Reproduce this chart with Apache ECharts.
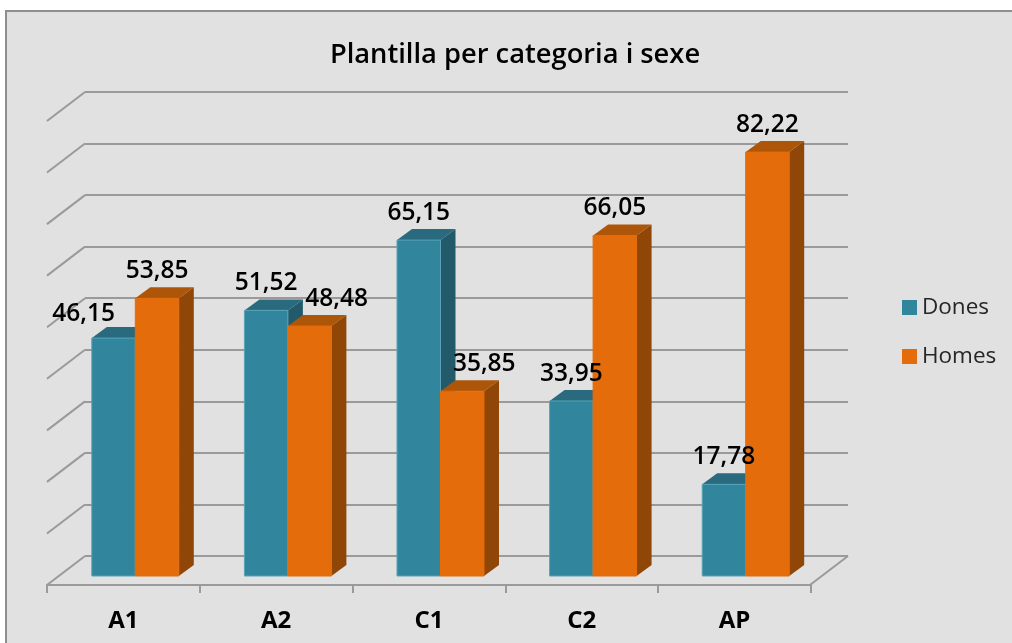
<!DOCTYPE html>
<html>
<head>
<meta charset="utf-8">
<style>html,body{margin:0;padding:0;background:#fff;overflow:hidden}#chart{width:1012px;height:643px}</style>
<script src="https://cdn.jsdelivr.net/npm/echarts@6/dist/echarts.min.js"></script>
</head>
<body>
<div id="chart"></div>
<script>
const categories = ['A1', 'A2', 'C1', 'C2', 'AP'];
const dones = [46.15, 51.52, 65.15, 33.95, 17.78];
const homes = [53.85, 48.48, 35.85, 66.05, 82.22];
const gridValues = [0, 10, 20, 30, 40, 50, 60, 70, 80, 90];

// Oblique projection of the chart box: front plane relative to the back wall
const FRONT = { x: -38, y: 29 };
const BAR_FRONT = { x: -26, y: 20 };
const BAR_DEPTH = { x: 15, y: -11 };
const BAR_BAND_RATIO = 0.285;

const TEAL = { front: '#31859c', top: '#2a6a7e', side: '#225a6a', edge: '#58a3b8' };
const ORANGE = { front: '#e46c0a', top: '#ad560a', side: '#8f4606', edge: '#e46c0a' };

// Labels that sit beside their bar to avoid colliding with the neighbour
const labelShift = {
  '0-0': { x: -30, y: 3 },
  '1-1': { x: 27, y: 0 },
  '1-2': { x: 22, y: 0 }
};

const poly = (points, fill, extra) => ({
  type: 'polygon', shape: { points }, style: Object.assign({ fill }, extra || {})
});

function barRenderer(side, palette) {
  return function (params, api) {
    const base = api.coord([api.value(0), 0]);
    const head = api.coord([api.value(0), api.value(1)]);
    const w = api.size([1, 0])[0] * BAR_BAND_RATIO;
    const x0 = base[0] + BAR_FRONT.x + (side === 0 ? -w : 0);
    const x1 = x0 + w;
    const yb = base[1] + BAR_FRONT.y;
    const yt = head[1] + BAR_FRONT.y;
    const dx = BAR_DEPTH.x, dy = BAR_DEPTH.y;
    return {
      type: 'group',
      children: [
        poly([[x1, yb], [x1 + dx, yb + dy], [x1 + dx, yt + dy], [x1, yt]], palette.side),
        poly([[x0, yt], [x1, yt], [x1 + dx, yt + dy], [x0 + dx, yt + dy]], palette.top),
        poly([[x0, yb], [x1, yb], [x1, yt], [x0, yt]], palette.front,
          { stroke: palette.edge, lineWidth: 1 })
      ]
    };
  };
}

function labelRenderer(params, api) {
  const series = api.value(0), cat = api.value(1), val = api.value(2);
  const p = api.coord([cat, val]);
  const w = api.size([1, 0])[0] * BAR_BAND_RATIO;
  const shift = labelShift[series + '-' + cat] || { x: 0, y: 0 };
  const cx = p[0] + BAR_FRONT.x + (series === 0 ? -w / 2 : w / 2) + shift.x;
  return {
    type: 'text', x: cx, y: p[1] + BAR_FRONT.y - 27 + shift.y,
    style: {
      text: val.toFixed(2).replace('.', ','),
      font: '600 24.5px "Open Sans"', fill: '#000',
      textAlign: 'center', textVerticalAlign: 'middle'
    }
  };
}

function slantRenderer(params, api) {
  const p = api.coord([0, api.value(0)]);
  const x = p[0] - api.size([1, 0])[0] / 2;
  return {
    type: 'line',
    shape: { x1: x, y1: p[1], x2: x + FRONT.x, y2: p[1] + FRONT.y },
    style: { stroke: '#9a9a9a', lineWidth: 2 }
  };
}

function floorEdgeRenderer(params, api) {
  const p = api.coord([categories.length - 1, 0]);
  const x = p[0] + api.size([1, 0])[0] / 2;
  return {
    type: 'line',
    shape: { x1: x, y1: p[1], x2: x + FRONT.x, y2: p[1] + FRONT.y },
    style: { stroke: '#9a9a9a', lineWidth: 2 }
  };
}

const labelData = [];
[dones, homes].forEach((vals, s) => vals.forEach((v, c) => labelData.push([s, c, v])));

const chart = echarts.init(document.getElementById('chart'), null, { renderer: 'canvas' });
chart.setOption({
  animation: false,
  backgroundColor: '#ffffff',
  graphic: [{
    type: 'rect', z: -10,
    shape: { x: 6, y: 11, width: 1100, height: 700 },
    style: { fill: '#e1e1e1', stroke: '#8e8e8e', lineWidth: 2 }
  }],
  title: {
    text: 'Plantilla per categoria i sexe',
    left: 510, top: 37, textAlign: 'center',
    textStyle: { fontFamily: 'Open Sans', fontWeight: 600, fontSize: 27.3, color: '#000' }
  },
  legend: {
    orient: 'vertical', left: 902, top: 296, padding: 0, itemWidth: 15, itemHeight: 15, itemGap: 26,
    icon: 'rect', data: ['Dones', 'Homes'],
    textStyle: { fontFamily: 'Open Sans', fontSize: 22.5, color: '#262626' }
  },
  grid: [
    { left: 85, top: 92, width: 763, height: 464 },
    { left: 47, top: 92, width: 764, height: 493 }
  ],
  xAxis: [
    { type: 'category', gridIndex: 0, data: categories, show: false },
    {
      type: 'category', gridIndex: 1, data: categories,
      axisLine: { lineStyle: { color: '#9a9a9a', width: 2 } },
      axisTick: { show: true, length: 8, alignWithLabel: false, lineStyle: { color: '#9a9a9a', width: 2 } },
      axisLabel: {
        margin: 24, color: '#000',
        fontFamily: 'Open Sans', fontWeight: 700, fontSize: 24
      }
    }
  ],
  yAxis: [
    {
      type: 'value', gridIndex: 0, min: 0, max: 90, interval: 10,
      axisLine: { show: false }, axisTick: { show: false }, axisLabel: { show: false },
      splitLine: { show: true, lineStyle: { color: '#9a9a9a', width: 2 } }
    },
    { type: 'value', gridIndex: 1, show: false, splitLine: { show: false } }
  ],
  series: [
    {
      type: 'custom', name: 'slants', silent: true, z: 1, xAxisIndex: 0, yAxisIndex: 0,
      coordinateSystem: 'cartesian2d', renderItem: slantRenderer,
      encode: { y: 0 }, data: gridValues.map(v => [v])
    },
    {
      type: 'custom', name: 'floor', silent: true, z: 1, xAxisIndex: 0, yAxisIndex: 0,
      coordinateSystem: 'cartesian2d', renderItem: floorEdgeRenderer,
      encode: { y: 0 }, data: [[0]]
    },
    {
      type: 'custom', name: 'Dones', z: 3, xAxisIndex: 0, yAxisIndex: 0,
      coordinateSystem: 'cartesian2d', renderItem: barRenderer(0, TEAL),
      itemStyle: { color: TEAL.front }, encode: { x: 0, y: 1 },
      data: dones.map((v, i) => [i, v])
    },
    {
      type: 'custom', name: 'Homes', z: 4, xAxisIndex: 0, yAxisIndex: 0,
      coordinateSystem: 'cartesian2d', renderItem: barRenderer(1, ORANGE),
      itemStyle: { color: ORANGE.front }, encode: { x: 0, y: 1 },
      data: homes.map((v, i) => [i, v])
    },
    {
      type: 'custom', name: 'values', silent: true, z: 6, xAxisIndex: 0, yAxisIndex: 0,
      coordinateSystem: 'cartesian2d', renderItem: labelRenderer,
      encode: { x: 1, y: 2 }, data: labelData
    }
  ]
});
</script>
</body>
</html>
